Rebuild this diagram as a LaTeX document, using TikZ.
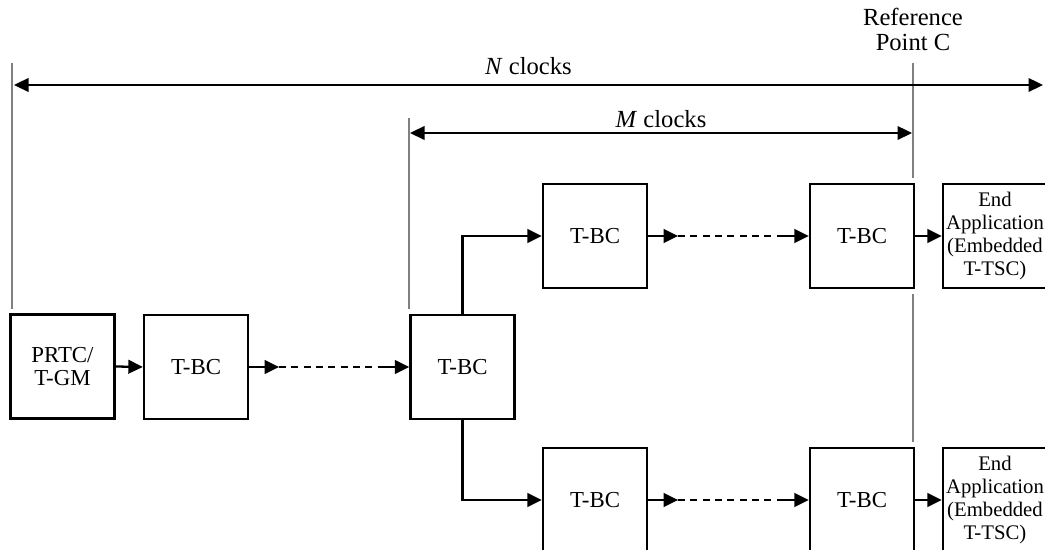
\documentclass[tikz,border=0pt]{standalone}
\usepackage{fontspec}
\setmainfont{Liberation Serif}
\usetikzlibrary{arrows.meta,positioning,calc}
\definecolor{RefGray}{RGB}{128,128,128}

\begin{document}
\begin{tikzpicture}[
        box/.style={draw=black,fill=white,line width=1.3pt,minimum width=2.08cm,
          minimum height=2.08cm,align=center,inner sep=0pt,
          font=\fontsize{13}{13}\selectfont},
        endbox/.style={box,font=\fontsize{11.8}{13}\selectfont},
        flow/.style={-{Triangle[length=2.9mm,width=2.7mm]},line width=1.3pt},
        gap/.style={line width=1.3pt,dash pattern=on 4pt off 3pt},
        span/.style={{Triangle[length=2.9mm,width=2.7mm]}-{Triangle[length=2.9mm,width=2.7mm]},
          line width=1.3pt},
        refline/.style={draw=RefGray,line width=0.8pt},
        tag/.style={font=\fontsize{14}{14.2}\selectfont,align=center}
      ]
        \useasboundingbox (0,0) rectangle (20.9,11);
        % reference lines
        \coordinate (nL) at (0.24,9.74);
        \coordinate (nLb) at (0.24,4.82);
        \coordinate (mL) at (8.18,8.64);
        \coordinate (mLb) at (8.18,4.82);
        \coordinate (cT) at (18.26,9.74);
        \coordinate (cU) at (18.26,7.44);
        \coordinate (cM) at (18.26,5.12);
        \coordinate (cB) at (18.26,2.16);
        \draw[refline] (nL) -- (nLb);
        \draw[refline] (mL) -- (mLb);
        \draw[refline] (cT) -- (cU);
        \draw[refline] (cM) -- (cB);
        \node[tag,anchor=south,inner sep=2pt,yshift=0.16cm] (ptc) at (cT) {Reference\\Point C};
        \coordinate (nA) at (0.28,9.3);
        \coordinate (nR) at (20.86,9.3);
        \coordinate (mA) at (8.2,8.34);
        \coordinate (mR) at (18.24,8.34);
        \draw[span] (nA) -- node[tag,above=2pt] (nlab) {\textit{N} clocks} (nR);
        \draw[span] (mA) -- node[tag,above=-1pt] (mlab) {\textit{M} clocks} (mR);
        % clocks
        \node[box] (prtc) at (1.25,3.67) {PRTC/\\T-GM};
        \node[box] (bca) at (3.92,3.66) {T-BC};
        \node[box] (bcm) at (9.25,3.66) {T-BC};
        \node[box] (bcu1) at (11.9,6.28) {T-BC};
        \node[box] (bcu2) at (17.24,6.28) {T-BC};
        \node[endbox] (endu) at (19.9,6.28) {End\\Application\\(Embedded\\T-TSC)};
        \node[box] (bcl1) at (11.9,1.0) {T-BC};
        \node[box] (bcl2) at (17.24,1.0) {T-BC};
        \node[endbox] (endl) at (19.9,1.0) {End\\Application\\(Embedded\\T-TSC)};
        % chain
        \draw[flow] (prtc.east) -- (bca.west);
        \coordinate (a1) at ([xshift=0.6cm]bca.east);
        \coordinate (a2) at ([xshift=-0.6cm]bcm.west);
        \draw[flow] (bca.east) -- (a1);
        \draw[gap] (a1) -- (a2);
        \draw[flow] (a2) -- (bcm.west);
        \draw[flow] (bcm.north) |- (bcu1.west);
        \draw[flow] (bcm.south) |- (bcl1.west);
        \coordinate (u1) at ([xshift=0.6cm]bcu1.east);
        \coordinate (u2) at ([xshift=-0.6cm]bcu2.west);
        \draw[flow] (bcu1.east) -- (u1);
        \draw[gap] (u1) -- (u2);
        \draw[flow] (u2) -- (bcu2.west);
        \coordinate (l1) at ([xshift=0.6cm]bcl1.east);
        \coordinate (l2) at ([xshift=-0.6cm]bcl2.west);
        \draw[flow] (bcl1.east) -- (l1);
        \draw[gap] (l1) -- (l2);
        \draw[flow] (l2) -- (bcl2.west);
        \draw[flow] (bcu2.east) -- (endu.west);
        \draw[flow] (bcl2.east) -- (endl.west);
      \end{tikzpicture}
\end{document}
